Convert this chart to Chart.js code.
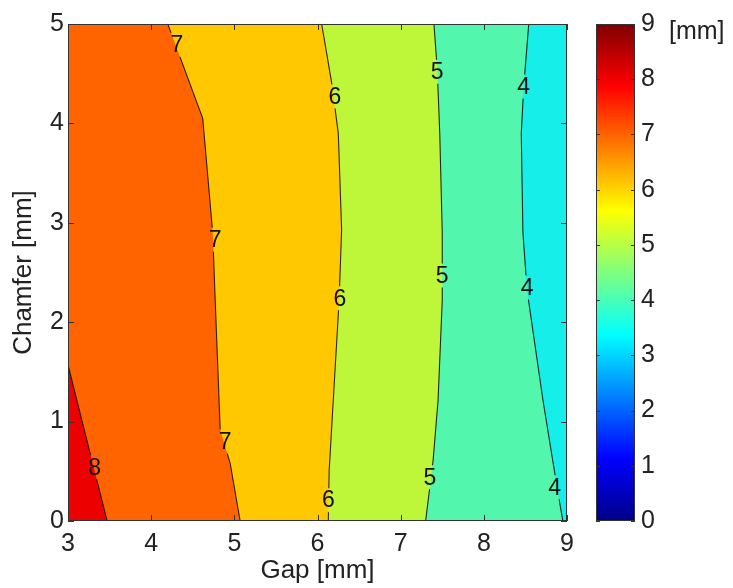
<!DOCTYPE html>
<html>
<head>
<meta charset="utf-8">
<script src="https://cdn.jsdelivr.net/npm/chart.js@4"></script>
<style>
  body { margin: 0; background: #fff; }
  #wrap { position: relative; width: 733px; height: 588px; }
  #main { position: absolute; left: 0; top: 0; }
  #cbar { position: absolute; left: 560px; top: 0; }
  #unit { position: absolute; left: 669px; top: 18px; font: 25px 'Liberation Sans', Arial, sans-serif; line-height: 25px; color: #222; }
</style>
</head>
<body>
<div id="wrap">
  <canvas id="main" width="600" height="588"></canvas>
  <canvas id="cbar" width="173" height="588"></canvas>
  <div id="unit">[mm]</div>
</div>
<script>
// axis ticks
const gapTicks = [3, 4, 5, 6, 7, 8, 9];
const chamferTicks = [0, 1, 2, 3, 4, 5];
const cbarTicks = [0, 1, 2, 3, 4, 5, 6, 7, 8, 9];

// contour lines (gap, chamfer), top to bottom
const c4Gap = [8.54, 8.48, 8.45, 8.47, 8.52, 8.71, 8.88, 8.95];
const c4Chamfer = [5, 4.37, 3.90, 2.90, 2.32, 1.22, 0.34, 0];
const c5Gap = [7.40, 7.44, 7.47, 7.50, 7.50, 7.45, 7.39, 7.30];
const c5Chamfer = [5, 4.54, 3.90, 2.90, 2.22, 1.22, 0.61, 0];
const c6Gap = [6.05, 6.17, 6.25, 6.29, 6.26, 6.19, 6.14, 6.13];
const c6Chamfer = [5, 4.41, 3.90, 2.93, 2.22, 1.22, 0.50, 0];
const c7Gap = [4.20, 4.62, 4.74, 4.77, 4.83, 4.95, 5.07];
const c7Chamfer = [5, 4.05, 2.90, 2.22, 0.92, 0.58, 0];
const c8Gap = [3.00, 3.47];
const c8Chamfer = [1.57, 0];

// contour labels
const labelGap = [3.32, 4.31, 4.77, 4.89, 6.21, 6.27, 6.13, 7.44, 7.50, 7.35, 8.48, 8.52, 8.85];
const labelChamfer = [0.54, 4.79, 2.83, 0.80, 4.27, 2.24, 0.21, 4.52, 2.47, 0.44, 4.37, 2.35, 0.34];
const labelText = ['8', '7', '7', '7', '6', '6', '6', '5', '5', '5', '4', '4', '4'];

const FONT = "'Liberation Sans', Arial, Helvetica, sans-serif";
const TEXT = '#222';

// band colours (area left of each contour = band above that level)
const baseColor = 'rgb(22,238,234)';
const contours = [
  { gap: c4Gap, ch: c4Chamfer, color: 'rgb(82,246,172)' },
  { gap: c5Gap, ch: c5Chamfer, color: 'rgb(190,246,58)' },
  { gap: c6Gap, ch: c6Chamfer, color: 'rgb(255,200,0)' },
  { gap: c7Gap, ch: c7Chamfer, color: 'rgb(255,100,0)' },
  { gap: c8Gap, ch: c8Chamfer, color: 'rgb(236,0,0)' }
];

const xMin = gapTicks[0], xMax = gapTicks[gapTicks.length - 1];
const yMin = chamferTicks[0], yMax = chamferTicks[chamferTicks.length - 1];

function pts(g, c) { return g.map((v, i) => ({ x: v, y: c[i] })); }

const datasets = [];
datasets.push({
  data: [{ x: xMin, y: yMin }, { x: xMax, y: yMin }, { x: xMax, y: yMax }, { x: xMin, y: yMax }],
  showLine: true, fill: 'shape', backgroundColor: baseColor,
  borderWidth: 0, borderColor: 'rgba(0,0,0,0)', pointRadius: 0, order: 200
});
contours.forEach((c, i) => {
  const line = pts(c.gap, c.ch);
  datasets.push({
    data: [{ x: xMin, y: c.ch[0] }, ...line, { x: xMin, y: c.ch[c.ch.length - 1] }],
    showLine: true, fill: 'shape', backgroundColor: c.color,
    borderWidth: 0, borderColor: 'rgba(0,0,0,0)', pointRadius: 0, order: 100 - i
  });
});
contours.forEach(c => {
  datasets.push({
    data: pts(c.gap, c.ch), isContour: true,
    showLine: true, fill: false, borderColor: 'rgba(20,20,20,0.9)', borderWidth: 1.1,
    pointRadius: 0, order: 0
  });
});

// break contour lines under their labels
const labelGaps = {
  id: 'labelGaps',
  beforeDatasetDraw(chart, args) {
    if (!chart.data.datasets[args.index].isContour) return;
    const { ctx, chartArea: a, scales: { x, y } } = chart;
    ctx.save();
    ctx.beginPath();
    ctx.rect(a.left, a.top, a.width, a.height);
    labelGap.forEach((g, i) => {
      const px = x.getPixelForValue(g), py = y.getPixelForValue(labelChamfer[i]);
      ctx.rect(px - 8, py - 12, 16, 24);
    });
    ctx.clip('evenodd');
  },
  afterDatasetDraw(chart, args) {
    if (!chart.data.datasets[args.index].isContour) return;
    chart.ctx.restore();
  }
};

// box, inward ticks and contour labels
const frame = {
  id: 'frame',
  afterDatasetsDraw(chart) {
    const { ctx, chartArea: a, scales: { x, y } } = chart;
    ctx.save();
    ctx.strokeStyle = '#333';
    ctx.lineWidth = 1;
    ctx.strokeRect(a.left + 0.5, a.top + 0.5, a.width - 1, a.height - 1);
    ctx.beginPath();
    gapTicks.forEach(v => {
      const px = Math.round(x.getPixelForValue(v)) + 0.5;
      ctx.moveTo(px, a.bottom); ctx.lineTo(px, a.bottom - 6);
      ctx.moveTo(px, a.top); ctx.lineTo(px, a.top + 6);
    });
    chamferTicks.forEach(v => {
      const py = Math.round(y.getPixelForValue(v)) + 0.5;
      ctx.moveTo(a.left, py); ctx.lineTo(a.left + 6, py);
      ctx.moveTo(a.right, py); ctx.lineTo(a.right - 6, py);
    });
    ctx.stroke();
    ctx.fillStyle = '#111';
    ctx.font = '23px ' + FONT;
    ctx.textAlign = 'center';
    ctx.textBaseline = 'middle';
    labelGap.forEach((g, i) => {
      ctx.fillText(labelText[i], x.getPixelForValue(g), y.getPixelForValue(labelChamfer[i]) + 1);
    });
    ctx.restore();
  }
};

new Chart(document.getElementById('main'), {
  type: 'scatter',
  data: { datasets },
  options: {
    responsive: false,
    animation: false,
    events: [],
    layout: { padding: { top: 24, right: 33, left: 0, bottom: 0 } },
    elements: { line: { tension: 0 } },
    scales: {
      x: {
        type: 'linear', min: xMin, max: xMax,
        afterBuildTicks: s => { s.ticks = gapTicks.map(v => ({ value: v })); },
        afterFit: s => { s.height = 67; },
        grid: { display: false, drawTicks: false },
        border: { display: false },
        ticks: { font: { family: FONT, size: 25 }, color: TEXT, padding: 8, maxRotation: 0 },
        title: { display: true, text: 'Gap [mm]', font: { family: FONT, size: 26 }, color: TEXT, padding: { top: 0, bottom: 2 } }
      },
      y: {
        type: 'linear', min: yMin, max: yMax,
        afterBuildTicks: s => { s.ticks = chamferTicks.map(v => ({ value: v })); },
        afterFit: s => { s.width = 68; },
        grid: { display: false, drawTicks: false },
        border: { display: false },
        ticks: { font: { family: FONT, size: 25 }, color: TEXT, padding: 4 },
        title: { display: true, text: 'Chamfer [mm]', font: { family: FONT, size: 26 }, color: TEXT, padding: { top: 8, bottom: 0 } }
      }
    },
    plugins: { legend: { display: false }, tooltip: { enabled: false } }
  },
  plugins: [labelGaps, frame]
});

// colour bar
function jet(context) {
  const { chart } = context;
  const a = chart.chartArea;
  if (!a) return null;
  const g = chart.ctx.createLinearGradient(0, a.bottom, 0, a.top);
  g.addColorStop(0, 'rgb(0,0,135)');
  g.addColorStop(0.125, 'rgb(0,0,255)');
  g.addColorStop(0.375, 'rgb(0,255,255)');
  g.addColorStop(0.625, 'rgb(255,255,0)');
  g.addColorStop(0.875, 'rgb(255,0,0)');
  g.addColorStop(1, 'rgb(128,0,0)');
  return g;
}

const cbarFrame = {
  id: 'cbarFrame',
  afterDatasetsDraw(chart) {
    const { ctx, chartArea: a, scales: { y } } = chart;
    ctx.save();
    ctx.strokeStyle = '#333';
    ctx.lineWidth = 1;
    ctx.strokeRect(a.left + 0.5, a.top + 0.5, a.width - 1, a.height - 1);
    ctx.beginPath();
    cbarTicks.forEach(v => {
      const py = Math.round(y.getPixelForValue(v)) + 0.5;
      ctx.moveTo(a.left, py); ctx.lineTo(a.left + 4, py);
      ctx.moveTo(a.right, py); ctx.lineTo(a.right - 4, py);
    });
    ctx.stroke();
    ctx.restore();
  }
};

new Chart(document.getElementById('cbar'), {
  type: 'bar',
  data: {
    labels: [''],
    datasets: [{
      data: [[cbarTicks[0], cbarTicks[cbarTicks.length - 1]]],
      backgroundColor: jet, borderWidth: 0,
      barPercentage: 1, categoryPercentage: 1
    }]
  },
  options: {
    responsive: false,
    animation: false,
    events: [],
    layout: { padding: { top: 24, left: 36, bottom: 67, right: 0 } },
    scales: {
      x: { display: false },
      y: {
        position: 'right',
        min: cbarTicks[0], max: cbarTicks[cbarTicks.length - 1],
        afterBuildTicks: s => { s.ticks = cbarTicks.map(v => ({ value: v })); },
        afterFit: s => { s.width = 98; },
        grid: { display: false, drawTicks: false },
        border: { display: false },
        ticks: { font: { family: FONT, size: 25 }, color: TEXT, padding: 6 }
      }
    },
    plugins: { legend: { display: false }, tooltip: { enabled: false } }
  },
  plugins: [cbarFrame]
});
</script>
</body>
</html>
